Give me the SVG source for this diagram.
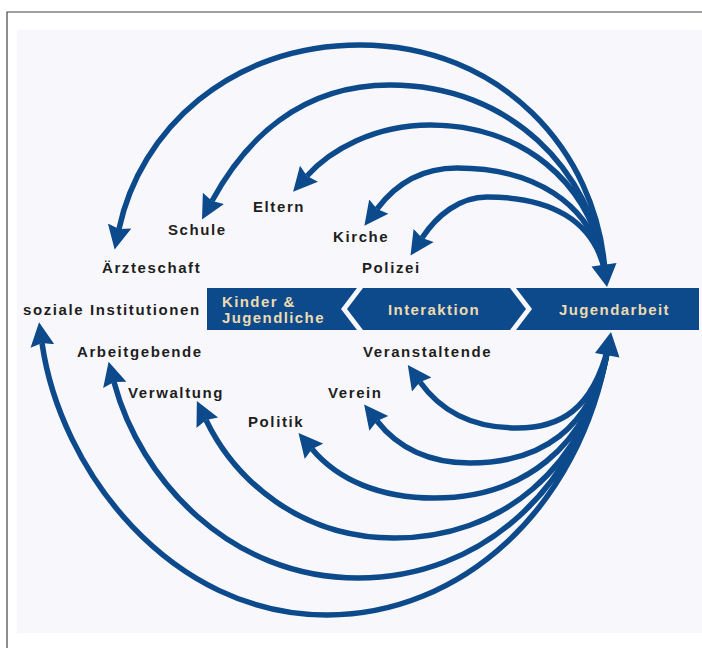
<svg xmlns="http://www.w3.org/2000/svg" width="702" height="648" viewBox="0 0 702 648">
<style>
.lbl{font-family:"Liberation Sans",Arial,sans-serif;font-weight:bold;font-size:15px;letter-spacing:1.6px;fill:#1e1e1e}
.band{fill:#0c4a8c}
.bt{font-family:"Liberation Sans",Arial,sans-serif;font-weight:bold;font-size:15px;letter-spacing:1.4px;fill:#eedbb0}
.arc{fill:none;stroke:#0c4a8c;stroke-width:5.5;marker-end:url(#ah)}
.head{fill:#0c4a8c}
</style>
<defs>
<marker id="ah" markerUnits="userSpaceOnUse" markerWidth="26" markerHeight="26" viewBox="0 0 26 26" refX="3" refY="13" orient="auto">
<path d="M0,1 L24,13 L0,25 L3,13 z" fill="#0c4a8c"/>
</marker>
</defs>
<rect x="0" y="0" width="702" height="648" fill="#ffffff"/>
<rect x="17" y="30" width="685" height="603" fill="#f8f8fc"/>
<path d="M7,648 V12 H702" fill="none" stroke="#444" stroke-width="1.2"/>

<g id="connectors">
<path class="arc" d="M605,272 C597,150 500,45 360,45 C230,45 140,130 119,229"/>
<path class="arc" d="M605,272 C592,170 510,85 390,85 C300,85 245,140 212,201"/>
<path class="arc" d="M605,272 C592,180 520,125 430,125 C375,125 330,150 307,176"/>
<path class="arc" d="M605,272 C592,200 530,168 457,168 C420,168 395,185 377,209"/>
<path class="arc" d="M605,272 C594,220 550,197 487,197 C460,197 437,215 422,238"/>
<path class="arc" d="M608,348 C592,410 560,428 517,428 C470,428 440,410 420,382"/>
<path class="arc" d="M608,348 C592,430 540,463 470,463 C430,463 398,448 377,421"/>
<path class="arc" d="M608,348 C590,450 520,498 434,498 C380,498 338,480 312,449"/>
<path class="arc" d="M608,348 C587,470 500,538 394,538 C300,538 235,480 206,420"/>
<path class="arc" d="M608,348 C582,490 480,578 358,578 C230,578 140,480 114,382"/>
<path class="arc" d="M608,348 C580,510 460,615 327,615 C170,615 60,470 42,343"/>
<polygon class="head" points="591.5,266.5 616.5,263 607,287"/>
<polygon class="head" points="595,353 619.5,357.5 611,332"/>
</g>

<g id="node-kinder">
<polygon class="band" points="207,288 357,288 341,309 357,330 207,330"/>
<text class="bt" x="222" y="307">Kinder &amp;</text>
<text class="bt" x="222" y="323">Jugendliche</text>
</g>
<g id="node-interaktion">
<polygon class="band" points="363,288 510,288 526,309 510,330 363,330 347,309"/>
<text class="bt" x="388" y="315">Interaktion</text>
</g>
<g id="node-jugendarbeit">
<polygon class="band" points="516,288 699,288 699,330 516,330 532,309"/>
<text class="bt" x="559" y="315">Jugendarbeit</text>
</g>

<g id="node-aerzteschaft"><text class="lbl" x="102" y="273">Ärzteschaft</text></g>
<g id="node-schule"><text class="lbl" x="168" y="235">Schule</text></g>
<g id="node-eltern"><text class="lbl" x="253" y="212">Eltern</text></g>
<g id="node-kirche"><text class="lbl" x="333" y="242">Kirche</text></g>
<g id="node-polizei"><text class="lbl" x="362" y="273">Polizei</text></g>
<g id="node-soziale"><text class="lbl" x="23" y="315">soziale Institutionen</text></g>
<g id="node-arbeitgebende"><text class="lbl" x="77" y="357">Arbeitgebende</text></g>
<g id="node-verwaltung"><text class="lbl" x="128" y="398">Verwaltung</text></g>
<g id="node-politik"><text class="lbl" x="248" y="427">Politik</text></g>
<g id="node-veranstaltende"><text class="lbl" x="363" y="357">Veranstaltende</text></g>
<g id="node-verein"><text class="lbl" x="328" y="398">Verein</text></g>
</svg>
